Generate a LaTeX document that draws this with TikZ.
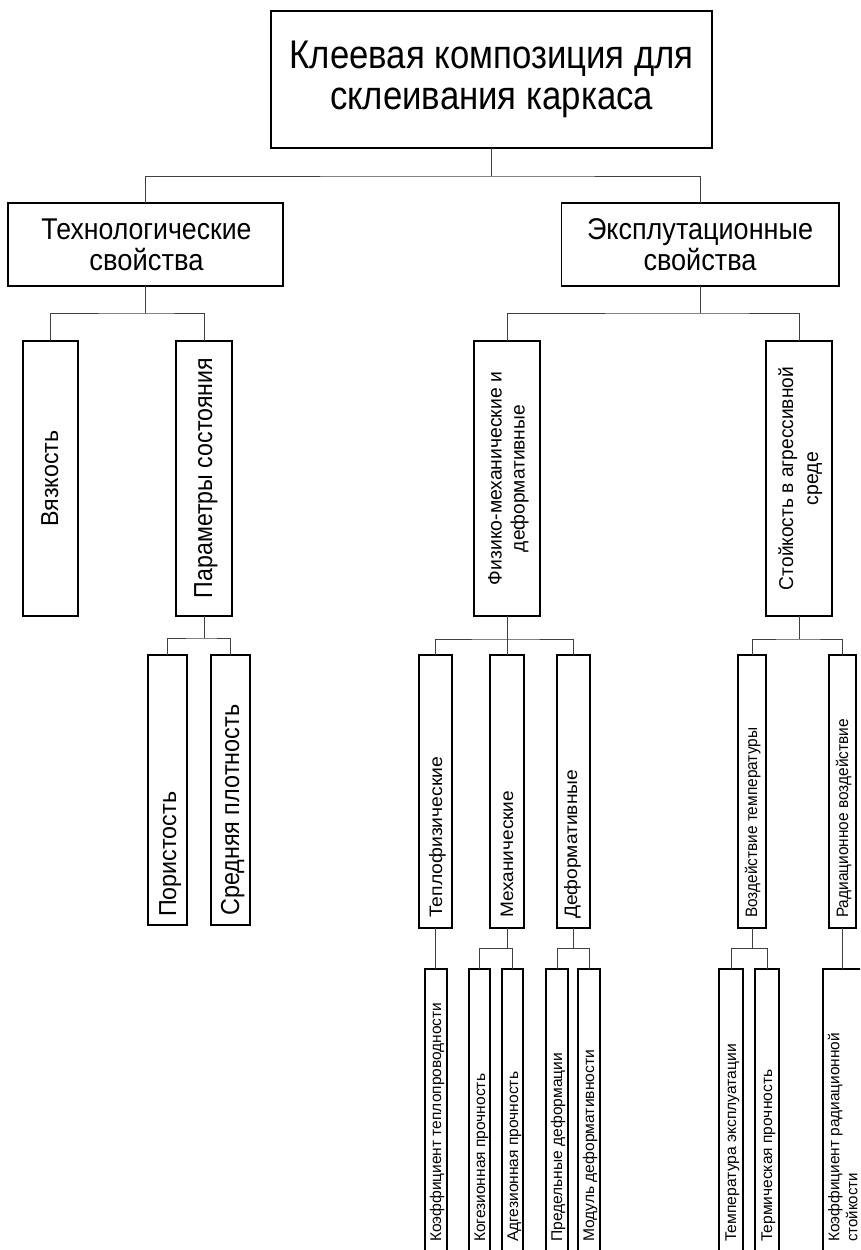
\documentclass[tikz,border=0pt]{standalone}
\usepackage{fontspec}
\setmainfont{Liberation Sans}
\usepackage{graphicx}
\newcommand{\tw}[2]{\resizebox{#1pt}{\height}{#2}}
\tikzset{
  box/.style={draw=black, line width=1.1pt, inner sep=0pt, outer sep=0pt, anchor=north west},
  conn/.style={draw=black!75, line width=1pt},
  vt/.style={rotate=90, inner sep=0pt, text=black},
}
\begin{document}
\begin{tikzpicture}[x=1pt,y=-1pt]
\useasboundingbox (0,0) rectangle (860,1250);
\clip (0,0) rectangle (860,1250);
\fill[white] (0,0) rectangle (860,1250);

% boxes
\node[box, minimum width=441pt, minimum height=137pt] (root) at (271,11) {};
\node[box, minimum width=275pt, minimum height=83pt] (tech) at (8,203) {};
\node[box, minimum width=277.5pt, minimum height=83pt] (expl) at (561.5,203) {};
\node[box, minimum width=55pt, minimum height=275pt] (vyaz) at (23,341) {};
\node[box, minimum width=56pt, minimum height=275pt] (param) at (176,341) {};
\node[box, minimum width=66pt, minimum height=275pt] (fiz) at (474,341) {};
\node[box, minimum width=66pt, minimum height=275pt] (stoik) at (766,341) {};
\node[box, minimum width=39pt, minimum height=270pt] (por) at (148,655) {};
\node[box, minimum width=39pt, minimum height=270pt] (sred) at (211,655) {};
\node[box, minimum width=33pt, minimum height=273pt] (tep) at (419,655) {};
\node[box, minimum width=34pt, minimum height=273pt] (meh) at (490,655) {};
\node[box, minimum width=33pt, minimum height=273pt] (def) at (557,655) {};
\node[box, minimum width=28pt, minimum height=273pt] (vozd) at (738,655) {};
\node[box, minimum width=27pt, minimum height=273pt] (rad) at (829,655) {};
\node[box, minimum width=22pt, minimum height=310pt] (kt) at (425,969) {};
\node[box, minimum width=21pt, minimum height=310pt] (kog) at (469,969) {};
\node[box, minimum width=21pt, minimum height=310pt] (adg) at (502,969) {};
\node[box, minimum width=22pt, minimum height=310pt] (pred) at (546,969) {};
\node[box, minimum width=22pt, minimum height=310pt] (mod) at (578,969) {};
\node[box, minimum width=24pt, minimum height=310pt] (temp) at (719,969) {};
\node[box, minimum width=24pt, minimum height=310pt] (term) at (755,969) {};
\node[box, minimum width=41pt, minimum height=310pt] (kr) at (823,969) {};

% horizontal texts
\node[inner sep=0pt, align=center, font=\fontsize{40}{41}\selectfont] (roottext) at (root.center)
  {\tw{404}{Клеевая композиция для}\\\tw{323}{склеивания каркаса}};
\node[inner sep=0pt, align=center, font=\fontsize{30}{31}\selectfont] (techtext) at (146.5,244.5)
  {\tw{210}{Технологические}\\\tw{114}{свойства}};
\node[inner sep=0pt, align=center, font=\fontsize{30}{31}\selectfont] (expltext) at (700,244.5)
  {\tw{226}{Эксплутационные}\\\tw{113}{свойства}};

% rotated texts, level 2
\node[vt, anchor=base, font=\fontsize{24.5}{28}\selectfont] (vyaztext) at (58,478.5) {\tw{96}{Вязкость}};
\node[vt, anchor=base, font=\fontsize{26}{28}\selectfont] (paramtext) at (212,478) {\tw{240}{Параметры состояния}};
\node[vt, align=center, font=\fontsize{19.5}{23}\selectfont] (fiztext) at (508.5,478.5)
  {\tw{213}{Физико-механические и}\\\tw{147}{деформативные}};
\node[vt, align=center, font=\fontsize{20}{25}\selectfont] (stoiktext) at (800.3,478.5)
  {\tw{223}{Стойкость в агрессивной}\\\tw{53}{среде}};

% level 3
\node[vt, anchor=base west, font=\fontsize{24.5}{28}\selectfont] (portext) at (176,917) {\tw{125}{Пористость}};
\node[vt, anchor=base west, font=\fontsize{26}{28}\selectfont] (sredtext) at (239,916) {\tw{211}{Средняя плотность}};
\node[vt, anchor=base west, font=\fontsize{18}{20}\selectfont] (teptext) at (442,918) {\tw{161}{Теплофизические}};
\node[vt, anchor=base west, font=\fontsize{18}{20}\selectfont] (mehtext) at (513,918) {\tw{127}{Механические}};
\node[vt, anchor=base west, font=\fontsize{18}{20}\selectfont] (deftext) at (577,919) {\tw{149}{Деформативные}};
\node[vt, anchor=base west, font=\fontsize{16.5}{19}\selectfont] (vozdtext) at (757,918) {\tw{190}{Воздействие температуры}};
\node[vt, anchor=base west, font=\fontsize{16.5}{19}\selectfont] (radtext) at (848,918) {\tw{199}{Радиационное воздействие}};

% level 4
\node[vt, anchor=base west, font=\fontsize{15.5}{18}\selectfont] (kttext) at (441,1242) {\tw{239}{Коэффициент теплопроводности}};
\node[vt, anchor=base west, font=\fontsize{15.5}{18}\selectfont] (kogtext) at (485,1242) {\tw{168}{Когезионная прочность}};
\node[vt, anchor=base west, font=\fontsize{15.5}{18}\selectfont] (adgtext) at (518,1242) {\tw{170}{Адгезионная прочность}};
\node[vt, anchor=base west, font=\fontsize{15.5}{18}\selectfont] (predtext) at (562,1242) {\tw{189}{Предельные деформации}};
\node[vt, anchor=base west, font=\fontsize{15.5}{18}\selectfont] (modtext) at (594,1242) {\tw{192}{Модуль деформативности}};
\node[vt, anchor=base west, font=\fontsize{15.5}{18}\selectfont] (temptext) at (736,1242) {\tw{198}{Температура эксплуатации}};
\node[vt, anchor=base west, font=\fontsize{15.5}{18}\selectfont] (termtext) at (772,1242) {\tw{172}{Термическая прочность}};
\node[vt, anchor=north west, align=left, font=\fontsize{15.5}{18}\selectfont] (krtext) at (827.7,1242)
  {\tw{209}{Коэффициент радиационной}\\\tw{69}{стойкости}};

% connectors
\draw[conn] (root.south) -- ++(0,28) coordinate (j0);
\draw[conn] (tech.north) |- (j0) -| (expl.north);
\draw[conn] (tech.south) -- ++(0,27) coordinate (j1);
\draw[conn] (vyaz.north) |- (j1) -| (param.north);
\draw[conn] (expl.south) -- ++(0,27) coordinate (j2);
\draw[conn] (fiz.north) |- (j2) -| (stoik.north);
\draw[conn] (param.south) -- ++(0,22) coordinate (j3);
\draw[conn] (por.north) |- (j3) -| (sred.north);
\draw[conn] (fiz.south) -- ++(0,23) coordinate (j4);
\draw[conn] (tep.north) |- (j4) -| (def.north);
\draw[conn] (j4) -- (meh.north);
\draw[conn] (stoik.south) -- ++(0,23) coordinate (j5);
\draw[conn] (vozd.north) |- (j5) -| (rad.north);
\draw[conn] (tep.south) -- (tep.south |- kt.north);
\draw[conn] (meh.south) -- ++(0,20) coordinate (j6);
\draw[conn] (kog.north) |- (j6) -| (adg.north);
\draw[conn] (def.south) -- ++(0,20) coordinate (j7);
\draw[conn] (pred.north) |- (j7) -| (mod.north);
\draw[conn] (vozd.south) -- ++(0,20) coordinate (j8);
\draw[conn] (temp.north) |- (j8) -| (term.north);
\draw[conn] (rad.south) -- (rad.south |- kr.north);
\end{tikzpicture}
\end{document}
